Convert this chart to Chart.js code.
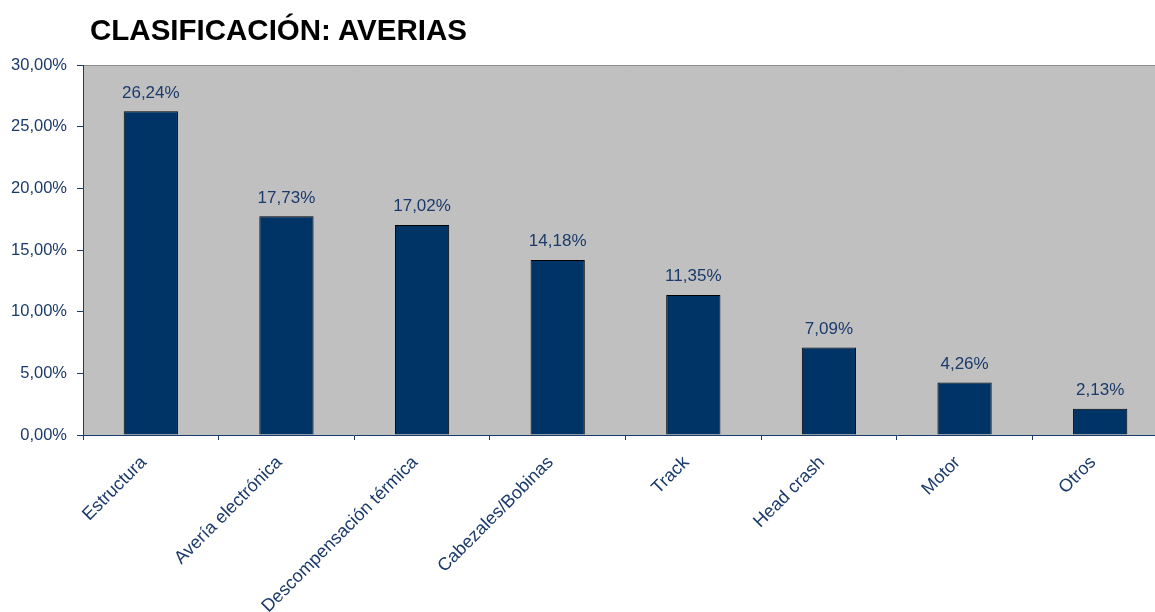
<!DOCTYPE html>
<html>
<head>
<meta charset="utf-8">
<script src="https://cdn.jsdelivr.net/npm/chart.js@4"></script>
<style>
  body { margin: 0; background: #fff; }
  #wrap { position: relative; width: 1155px; height: 612px; overflow: hidden; }
  #title { position: absolute; left: 90px; top: 15px; font: bold 29.5px/29.5px "Liberation Sans", Arial, sans-serif; color: #000; white-space: nowrap; }
</style>
</head>
<body>
<div id="wrap">
  <div id="title">CLASIFICACIÓN: AVERIAS</div>
  <!-- canvas is a bit wider than the window: the last category is cut off like in the original -->
  <canvas id="myChart" width="1168" height="612"></canvas>
</div>
<script>
// categories and values (percent)
const categories = ['Estructura', 'Avería electrónica', 'Descompensación térmica', 'Cabezales/Bobinas', 'Track', 'Head crash', 'Motor', 'Otros'];
const values = [26.24, 17.73, 17.02, 14.18, 11.35, 7.09, 4.26, 2.13];
const yTicks = [0, 5, 10, 15, 20, 25, 30];

const navy = '#1a3a6b';
const fontFamily = '"Liberation Sans", Arial, sans-serif';

// formats a number like 26,24%
function pct(v) {
  return v.toFixed(2).replace('.', ',') + '%';
}

// gray plot background + labels above bars
const plotStuff = {
  id: 'plotStuff',
  beforeDraw(chart) {
    const a = chart.chartArea;
    const ctx = chart.ctx;
    ctx.save();
    ctx.fillStyle = '#c0c0c0';
    ctx.fillRect(a.left, a.top, a.right - a.left, a.bottom - a.top);
    ctx.strokeStyle = '#8c8c8c';
    ctx.lineWidth = 1;
    ctx.beginPath();
    ctx.moveTo(a.left, a.top + 0.5);
    ctx.lineTo(a.right, a.top + 0.5);
    ctx.stroke();
    ctx.restore();
  },
  afterDatasetsDraw(chart) {
    const ctx = chart.ctx;
    const meta = chart.getDatasetMeta(0);
    ctx.save();
    ctx.fillStyle = navy;
    ctx.font = '17px ' + fontFamily;
    ctx.textAlign = 'center';
    ctx.textBaseline = 'bottom';
    meta.data.forEach((bar, i) => {
      ctx.fillText(pct(values[i]), bar.x, bar.y - 10);
    });
    ctx.restore();
  }
};

const myChart = document.getElementById('myChart');

new Chart(myChart, {
  type: 'bar',
  data: {
    labels: categories,
    datasets: [{
      data: values,
      backgroundColor: '#003366',
      borderColor: '#000000',
      borderWidth: 1,
      categoryPercentage: 1,
      barPercentage: 0.4
    }]
  },
  options: {
    responsive: false,
    animation: false,
    layout: { padding: { top: 65, right: 0, left: 0, bottom: 0 } },
    plugins: {
      legend: { display: false },
      tooltip: { enabled: false }
    },
    scales: {
      x: {
        afterFit(scale) { scale.height = 177; },
        border: { display: true, color: navy, width: 1 },
        grid: { offset: true, drawOnChartArea: false, drawTicks: true, tickLength: 5, color: navy },
        ticks: {
          autoSkip: false,
          minRotation: 45,
          maxRotation: 45,
          color: navy,
          font: { family: fontFamily, size: 18 },
          padding: 12,
          labelOffset: -7
        }
      },
      y: {
        min: 0,
        max: 30,
        afterFit(scale) { scale.width = 83; },
        afterBuildTicks(scale) { scale.ticks = yTicks.map(v => ({ value: v })); },
        border: { display: true, color: navy, width: 1 },
        grid: { drawOnChartArea: false, drawTicks: true, tickLength: 6, color: navy },
        ticks: {
          color: navy,
          font: { family: fontFamily, size: 16.5 },
          padding: 10,
          callback: v => pct(v)
        }
      }
    }
  },
  plugins: [plotStuff]
});
</script>
</body>
</html>
